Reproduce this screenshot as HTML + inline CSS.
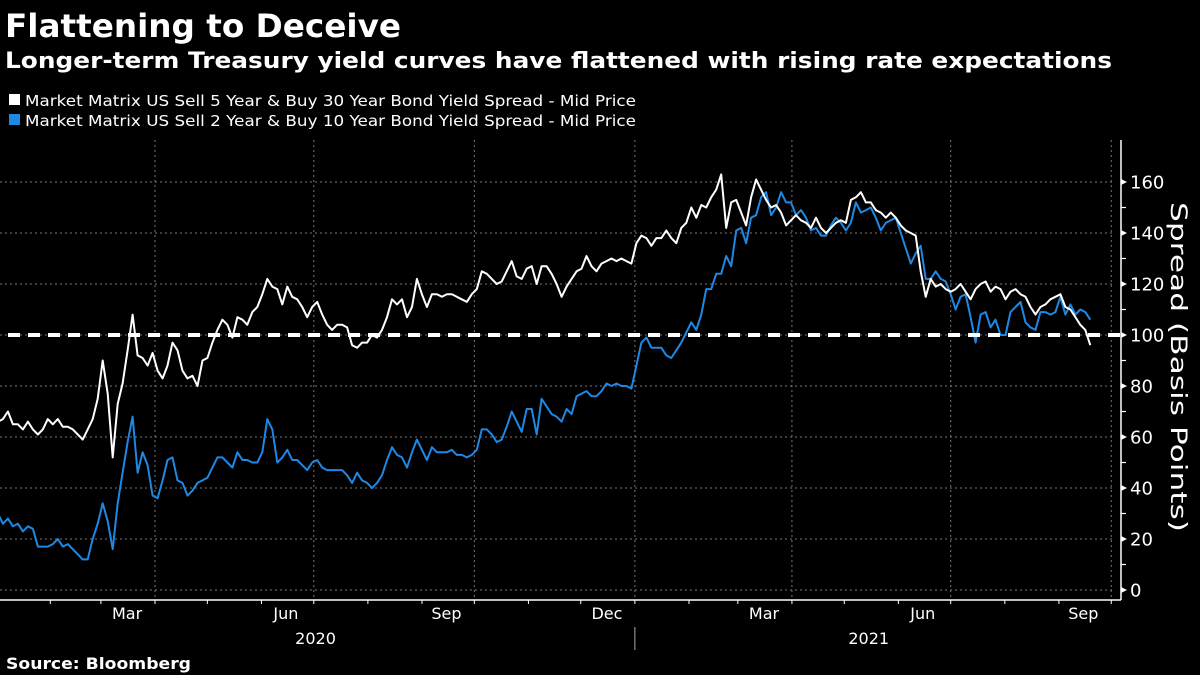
<!DOCTYPE html>
<html><head><meta charset="utf-8"><style>
html,body{margin:0;padding:0;background:#000;}
svg{display:block;}
text{font-family:"DejaVu Sans","Liberation Sans",sans-serif;fill:#fff;}
</style></head><body>
<svg id="chart" width="1200" height="675" viewBox="0 0 1200 675" xmlns="http://www.w3.org/2000/svg">
<rect width="1200" height="675" fill="#000"/>
<text x="5" y="37" font-size="32" font-weight="bold" textLength="396" lengthAdjust="spacingAndGlyphs">Flattening to Deceive</text>
<text x="5" y="68" font-size="22" font-weight="bold" textLength="1107" lengthAdjust="spacingAndGlyphs">Longer-term Treasury yield curves have flattened with rising rate expectations</text>
<g>
<g><rect x="9" y="94" width="11" height="11" fill="#fff"/><text x="25" y="106" font-size="15.5" textLength="611" lengthAdjust="spacingAndGlyphs" fill="#ddd">Market Matrix US Sell 5 Year &amp; Buy 30 Year Bond Yield Spread - Mid Price</text></g>
<g><rect x="9" y="114" width="11" height="11" fill="#1e88e5"/><text x="25" y="126" font-size="15.5" textLength="611" lengthAdjust="spacingAndGlyphs" fill="#ddd">Market Matrix US Sell 2 Year &amp; Buy 10 Year Bond Yield Spread - Mid Price</text></g>
</g>
<g id="grid"></g>
<g id="axes"></g>
<g id="series"></g>
<text transform="translate(1171,367) rotate(90)" text-anchor="middle" font-size="22" textLength="330" lengthAdjust="spacingAndGlyphs">Spread (Basis Points)</text>
<text x="6" y="669" font-size="16" font-weight="bold" textLength="185" lengthAdjust="spacingAndGlyphs">Source: Bloomberg</text>
</svg>
<script>
const startDate = "2020-01-02";
const endDate = "2021-09-19";
const yTicks = [0,20,40,60,80,100,120,140,160];
const referenceLevel = [100];
const monthLabels = ["Mar","Jun","Sep","Dec","Mar","Jun","Sep"];
const monthLabelDates = ["2020-03-16","2020-06-15","2020-09-15","2020-12-16","2021-03-16","2021-06-15","2021-09-15"];
const yearLabels = ["2020","2021"];
const yearLabelDates = ["2020-07-02","2021-05-15"];
const fiveThirty = [66,67,70,65,65,63,66,63,61,63,67,65,67,64,64,63,61,59,63,67,75,90,77,52,73,81,94,108,92,91,88,93,86,83,88,97,94,86,83,84,80,90,91,97,102,106,104,99,107,106,104,109,111,116,122,119,118,112,119,115,114,111,107,111,113,108,104,102,104,104,103,96,95,97,97,100,
99,102,107,114,112,114,107,111,122,116,111,116,116,115,116,116,115,114,113,116,118,125,124,122,120,121,125,129,123,122,126,127,120,127,127,124,120,115,119,122,125,126,131,127,125,128,129,130,129,130,129,128,136,139,138,135,138,138,141,138,136,142,144,150,146,151,150,154,157,163,142,152,153,148,143,154,
161,157,153,150,151,148,143,145,147,145,144,142,146,142,140,142,144,145,144,153,154,156,152,152,149,148,146,148,146,143,141,140,139,125,115,122,119,120,118,117,118,120,117,114,118,120,121,117,119,118,114,117,118,116,115,111,108,111,112,114,115,116,111,110,107,104,102,96];
const twoTen = [30,26,28,25,26,23,25,24,17,17,17,18,20,17,18,16,14,12,12,20,26,34,27,16,34,46,58,68,46,54,49,37,36,43,51,52,43,42,37,39,42,43,44,48,52,52,50,48,54,51,51,50,50,54,67,63,50,52,55,51,51,49,47,50,51,48,47,47,47,47,45,42,46,43,42,40,
42,45,51,56,53,52,48,54,59,55,51,56,54,54,54,55,53,53,52,53,55,63,63,61,58,59,64,70,66,62,71,71,61,75,72,69,68,66,71,69,76,77,78,76,76,78,81,80,81,80,80,79,88,97,99,95,95,95,92,91,94,97,101,105,102,108,118,118,124,124,131,127,141,142,136,146,
147,154,156,147,150,156,152,152,147,149,146,141,142,139,139,143,146,144,141,144,152,148,149,150,146,141,144,145,146,140,134,128,132,135,122,122,125,122,121,116,110,115,116,107,97,108,109,103,106,100,100,109,111,113,105,103,102,109,109,108,109,115,108,112,108,110,109,106];

const NS="http://www.w3.org/2000/svg";
const DAY=86400000;
const x0Date=Date.parse("2020-04-01"), pxPerDay=1.745, xAtRef=155;
function xScale(dateMs){return xAtRef+(dateMs-x0Date)/DAY*pxPerDay;}
function yScale(v){return 590-2.55*v;}
const axisX=1121, gridRight=1115;
function mk(tag,attrs,parent){const e=document.createElementNS(NS,tag);for(const k in attrs)e.setAttribute(k,attrs[k]);parent.appendChild(e);return e;}
const grid=document.getElementById('grid'), axes=document.getElementById('axes'), series=document.getElementById('series');

yTicks.forEach(v=>{
  const y=yScale(v);
  const g=mk('line',{x1:0,x2:gridRight,y1:y,y2:y,stroke:'#777','stroke-width':1,'stroke-dasharray':'2,3'},grid);
  
  
  const t=mk('polygon',{points:`${axisX},${y-3} ${axisX+6},${y} ${axisX},${y+3}`,fill:'#fff'},axes);
  
  
  const lab=mk('text',{x:axisX+9,y:y+6.5,'font-size':18},axes);
  lab.textContent=v;
  
  
});
for(let v=10;v<170;v+=20){
  const y=yScale(v);
  const t=mk('line',{x1:axisX,x2:axisX+5,y1:y,y2:y,stroke:'#fff','stroke-width':1.2},axes);
  
  
}
for(let m=1;m<=21;m++){
  const d=Date.UTC(2020,m,1), x=xScale(d);
  if(m%3===0){
    const g=mk('line',{x1:x,x2:x,y1:140,y2:600,stroke:'#777','stroke-width':1,'stroke-dasharray':'2,3'},grid);
    
    
  }
  const t=mk('line',{x1:x,x2:x,y1:600,y2:604,stroke:'#fff','stroke-width':1},axes);
  
  
}
const xa=mk('line',{x1:0,x2:axisX,y1:600,y2:600,stroke:'#fff','stroke-width':1.5},axes);


const ya=mk('line',{x1:axisX,x2:axisX,y1:140,y2:600,stroke:'#fff','stroke-width':1.5},axes);


monthLabels.forEach((m,i)=>{
  const t=mk('text',{x:xScale(Date.parse(monthLabelDates[i])),y:619,'font-size':16,'text-anchor':'middle'},axes);
  t.textContent=m;
  
  
});
yearLabels.forEach((yr,i)=>{
  const t=mk('text',{x:xScale(Date.parse(yearLabelDates[i])),y:644,'font-size':16,'text-anchor':'middle'},axes);
  t.textContent=yr;
  
  
});
const sep=mk('line',{x1:xScale(Date.UTC(2021,0,1)),x2:xScale(Date.UTC(2021,0,1)),y1:627,y2:650,stroke:'#aaa','stroke-width':1},axes);



function drawSeries(vals,color,name){
  const s=Date.parse(startDate), e=Date.parse(endDate), n=vals.length;
  const pts=vals.map((v,i)=>xScale(s+(e-s)*i/(n-1)).toFixed(1)+','+yScale(v).toFixed(1));
  const p=mk('polyline',{points:pts.join(' '),fill:'none',stroke:color,'stroke-width':2,'stroke-linejoin':'round'},series);
  
  
}
drawSeries(twoTen,'#1e88e5','line-2s10s');
drawSeries(fiveThirty,'#ffffff','line-5s30s');
const ry=yScale(referenceLevel[0]);
const ref=mk('line',{x1:8,x2:axisX,y1:ry,y2:ry,stroke:'#fff','stroke-width':4,'stroke-dasharray':'12,8'},series);


</script>
</body></html>
